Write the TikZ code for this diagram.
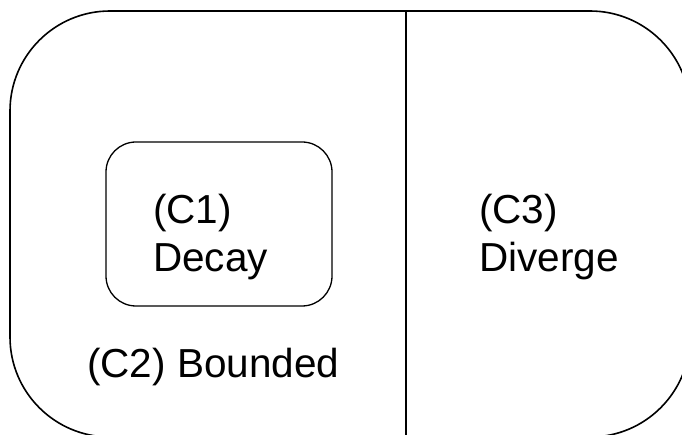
\documentclass[tikz,border=0pt]{standalone}
\usepackage{fontspec}
\setmainfont{Liberation Sans}
\begin{document}
\begin{tikzpicture}[x=1pt,y=-1pt,
  lbl/.style={anchor=base west,inner sep=0pt,font=\fontsize{40.5}{48}\selectfont},
  outerline/.style={draw=black,line width=1.6pt},
  innerline/.style={draw=black,line width=1.3pt}]
\useasboundingbox (0,0) rectangle (682,435);
\clip (0,0) rectangle (682,435);
\draw[outerline,rounded corners=100pt] (10,11) rectangle (690,437);
\draw[outerline] (406,11) -- (406,437);
\draw[innerline,rounded corners=30pt] (106,142) rectangle (332,306);
\node[lbl] (c1a) at (153,224) {(C1)};
\node[lbl] (c1b) at (153,272) {Decay};
\node[lbl] (c3a) at (479,224) {(C3)};
\node[lbl] (c3b) at (479,272) {Diverge};
\node[lbl] (c2) at (87,377) {(C2) Bounded};
\end{tikzpicture}
\end{document}
